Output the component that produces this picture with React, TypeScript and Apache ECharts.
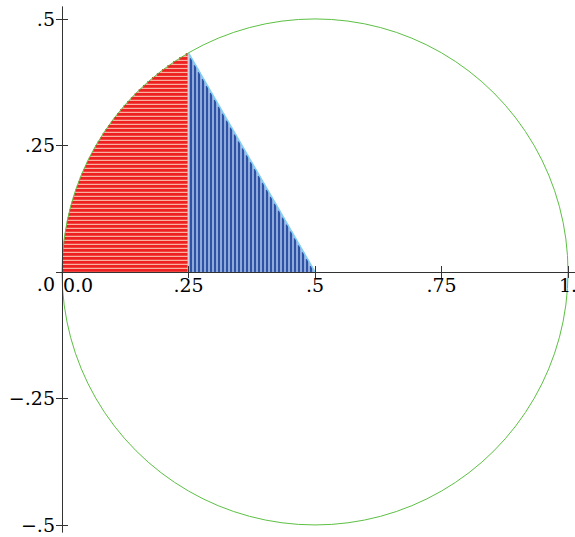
import { useEffect, useRef } from 'react';
import * as echarts from 'echarts';

// Axis ticks and labels
const xLabelValues = [0, 0.25, 0.5, 0.75, 1];
const xTickLabels = ['0.0', '.25', '.5', '.75', '1.'];
const yLabelValues = [-0.5, -0.25, 0, 0.25, 0.5];
const yTickLabels = ['−.5', '−.25', '.0', '.25', '.5'];

// Geometry of the figure
const circleCenter = [0.5, 0];
const circleRadius = 0.5;
const redRegionX = [0, 0.25];
const blueTriangle = [
  [0.25, 0.433],
  [0.5, 0],
];

const xRange = [0, 1.0138];
const yRange = [-0.514, 0.5237];

const FONT = 'DejaVu Serif';

function renderFigure(_params: any, api: any) {
  const c = api.coord(circleCenter);
  const cx = c[0];
  const cy = c[1];
  const r = api.size([circleRadius, 0])[0];
  const xLeft = api.coord([redRegionX[0], 0])[0];
  const xSplit = api.coord([redRegionX[1], 0])[0];
  const top = api.coord(blueTriangle[0]);
  const end = api.coord(blueTriangle[1]);
  const h = cy - top[1];

  const children: any[] = [];

  // red region background (arc + vertical edge)
  const redPts: number[][] = [];
  const steps = 60;
  for (let i = 0; i <= steps; i++) {
    const dy = (h * i) / steps;
    const hw = Math.sqrt(Math.max(0, r * r - dy * dy));
    redPts.push([Math.max(xLeft, cx - hw), cy - dy]);
  }
  redPts.push([xSplit, cy - h]);
  redPts.push([xSplit, cy]);
  children.push({
    type: 'polygon',
    shape: { points: redPts },
    style: { fill: '#f8b0a0', stroke: null },
  });
  // red horizontal hatching
  for (let py = cy - 1.5; py > cy - h; py -= 4) {
    const dy = cy - py;
    const hw = Math.sqrt(Math.max(0, r * r - dy * dy));
    const xs = Math.max(xLeft, cx - hw);
    children.push({
      type: 'line',
      shape: { x1: xs, y1: py, x2: xSplit - 1, y2: py },
      style: { stroke: '#ee2020', lineWidth: 2.8 },
    });
  }

  // blue triangle background
  children.push({
    type: 'polygon',
    shape: { points: [[xSplit, cy], [top[0], top[1]], [end[0], end[1]]] },
    style: { fill: '#a9bfe8', stroke: null },
  });
  // blue vertical hatching
  for (let px = xSplit + 2.5; px < end[0]; px += 4) {
    const t = (px - top[0]) / (end[0] - top[0]);
    const yTop = top[1] + t * (end[1] - top[1]);
    children.push({
      type: 'line',
      shape: { x1: px, y1: cy, x2: px, y2: yTop + 1 },
      style: { stroke: '#2e52a6', lineWidth: 2.4 },
    });
  }
  children.push({
    type: 'line',
    shape: { x1: top[0], y1: top[1], x2: end[0], y2: end[1] },
    style: { stroke: '#7fd0f2', lineWidth: 1.5 },
  });

  // green circle
  children.push({
    type: 'circle',
    shape: { cx, cy, r },
    style: { fill: null, stroke: '#5cc043', lineWidth: 1 },
  });

  return { type: 'group', children };
}

export default function App() {
  const ref = useRef<HTMLDivElement>(null);

  useEffect(() => {
    if (!ref.current) return;
    const chart = echarts.init(ref.current, null, { renderer: 'svg' });
    const axisLineStyle = { color: '#333', width: 1 };
    const labelStyle = { fontFamily: FONT, fontSize: 19, color: '#000' };
    const hiddenAxis = (gridIndex: number, range: number[]) => ({
      type: 'value',
      gridIndex,
      show: false,
      min: range[0],
      max: range[1],
    });
    chart.setOption({
      animation: false,
      backgroundColor: '#fff',
      grid: [
        { left: 62, top: 7, width: 513, height: 525, containLabel: false, outerBoundsMode: 'none' },
        // upper half: its bottom edge is y = 0 of the plot
        { left: 62, top: 7, width: 513, height: 265, containLabel: false, outerBoundsMode: 'none' },
        // lower half: its top edge is y = 0 of the plot
        { left: 62, top: 272, width: 513, height: 260, containLabel: false, outerBoundsMode: 'none' },
      ],
      xAxis: [
        hiddenAxis(0, xRange),
        {
          type: 'value',
          gridIndex: 1,
          position: 'bottom',
          min: xRange[0],
          max: xRange[1],
          axisLine: { show: true, onZero: false, lineStyle: axisLineStyle },
          axisTick: { show: true, length: 6, customValues: xLabelValues, lineStyle: axisLineStyle },
          splitLine: { show: false },
          axisLabel: {
            ...labelStyle,
            margin: 3,
            customValues: xLabelValues,
            formatter: (v: number) => {
              const i = xLabelValues.indexOf(v);
              if (i < 0) return '';
              return v === 0 ? '{z|' + xTickLabels[i] + '}' : xTickLabels[i];
            },
            rich: { z: { ...labelStyle, padding: [0, 0, 0, 32] } },
          },
        },
        {
          type: 'value',
          gridIndex: 2,
          position: 'top',
          min: xRange[0],
          max: xRange[1],
          axisLine: { show: false, onZero: false },
          axisTick: { show: true, length: 6, customValues: xLabelValues, lineStyle: axisLineStyle },
          splitLine: { show: false },
          axisLabel: { show: false },
        },
      ],
      yAxis: [
        {
          type: 'value',
          gridIndex: 0,
          position: 'left',
          min: yRange[0],
          max: yRange[1],
          axisLine: { show: true, onZero: false, lineStyle: axisLineStyle },
          axisTick: { show: true, length: 6, customValues: yLabelValues, lineStyle: axisLineStyle },
          splitLine: { show: false },
          axisLabel: {
            ...labelStyle,
            margin: 7,
            customValues: yLabelValues,
            formatter: (v: number) => {
              const i = yLabelValues.indexOf(v);
              if (i < 0) return '';
              return v === 0 ? '{z|' + yTickLabels[i] + '}' : yTickLabels[i];
            },
            rich: { z: { ...labelStyle, padding: [24, 0, 0, 0] } },
          },
        },
        {
          type: 'value',
          gridIndex: 0,
          position: 'right',
          min: yRange[0],
          max: yRange[1],
          axisLine: { show: true, onZero: true, onZeroAxisIndex: 0, lineStyle: axisLineStyle },
          axisTick: { show: true, length: 6, customValues: yLabelValues, lineStyle: axisLineStyle },
          splitLine: { show: false },
          axisLabel: { show: false },
        },
        hiddenAxis(1, [0, 1]),
        hiddenAxis(2, [0, 1]),
      ],
      series: [
        {
          type: 'custom',
          xAxisIndex: 0,
          yAxisIndex: 0,
          z: -1,
          silent: true,
          clip: false,
          renderItem: renderFigure,
          data: [circleCenter],
        },
      ],
    });
    return () => chart.dispose();
  }, []);

  return (
    <div
      ref={ref}
      style={{ position: 'fixed', left: 0, top: 0, width: 575, height: 537, background: '#fff' }}
    />
  );
}
